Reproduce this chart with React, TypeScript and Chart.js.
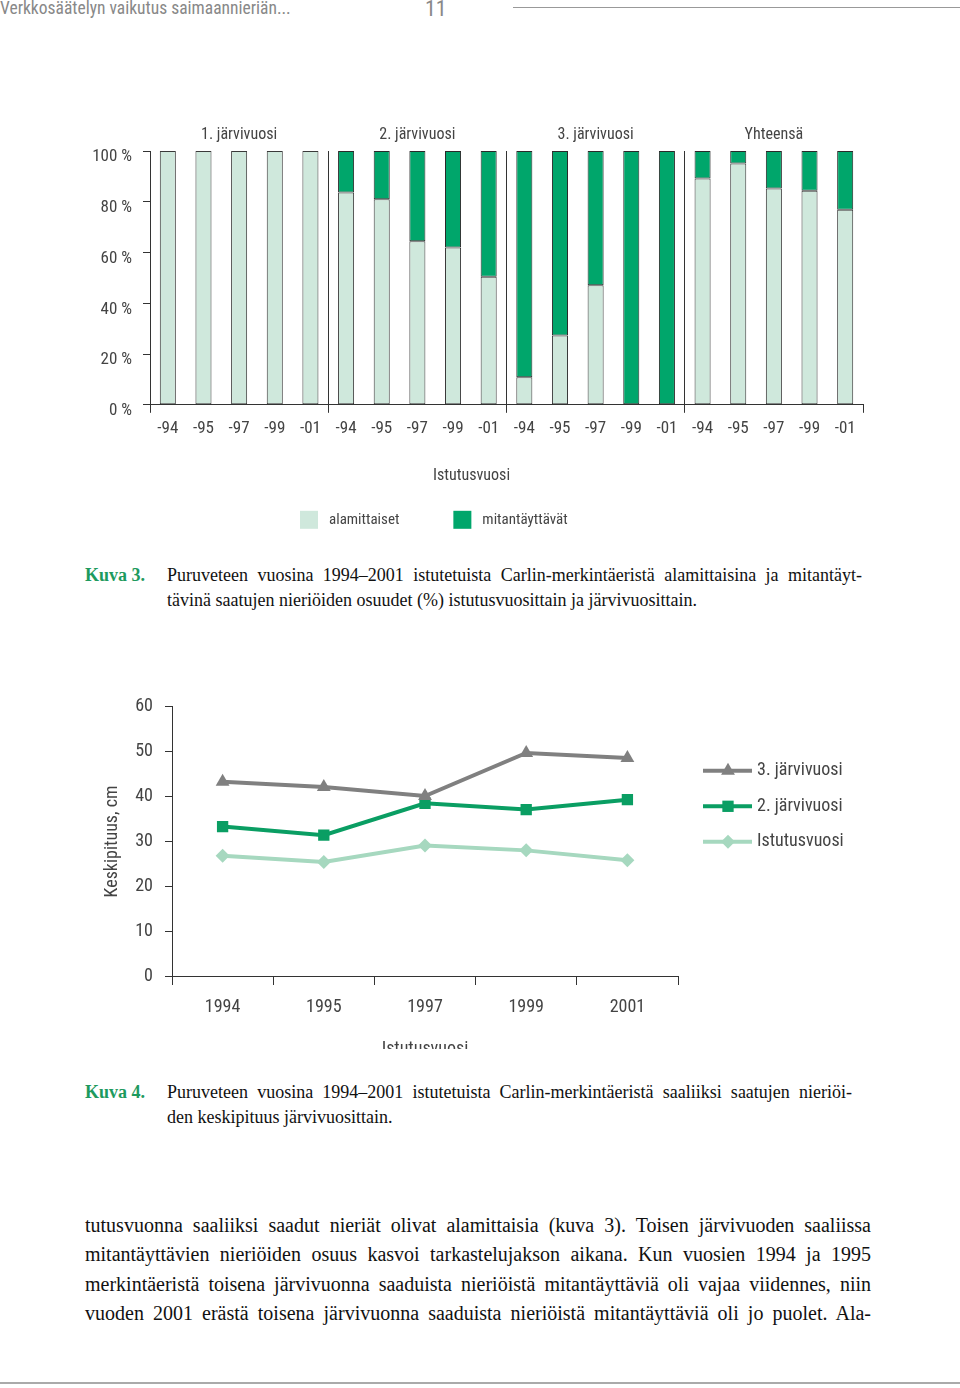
import { useEffect, useRef } from 'react';
import { Chart, registerables } from 'chart.js';

Chart.register(...registerables);

const FONT = '"Liberation Sans Narrow", "Roboto Condensed", Roboto, sans-serif';
const SERIF = '"Liberation Serif", "Times New Roman", serif';
const TEXT = '#444';
const LIGHT = '#cfe8dc';
const DARK = '#00a66b';

// Kuva 3: share of undersized / legal-size fish
const yearLabels = [
  '-94', '-95', '-97', '-99', '-01',
  '-94', '-95', '-97', '-99', '-01',
  '-94', '-95', '-97', '-99', '-01',
  '-94', '-95', '-97', '-99', '-01',
];
const groupLabels = ['1. järvivuosi', '2. järvivuosi', '3. järvivuosi', 'Yhteensä'];
const alamittaiset = [
  100, 100, 100, 100, 100,
  83.6, 81, 64.4, 62, 50.5,
  10.9, 27.3, 47.1, 0, 0,
  89.2, 95.1, 85.2, 84.3, 76.9,
];
const mitantayttavat = [
  0, 0, 0, 0, 0,
  16.4, 19, 35.6, 38, 49.5,
  89.1, 72.7, 52.9, 100, 100,
  10.8, 4.9, 14.8, 15.7, 23.1,
];

// Kuva 4: mean length by planting year
const plantingYears = ['1994', '1995', '1997', '1999', '2001'];
const lakeYear3 = [43.3, 42.1, 40.1, 49.7, 48.6];
const lakeYear2 = [33.3, 31.4, 38.5, 37.1, 39.3];
const plantingYearLen = [26.8, 25.4, 29.1, 28.0, 25.8];

const barLegend = {
  id: 'barLegend',
  afterDraw(chart: any) {
    const { ctx, chartArea } = chart;
    const y = chartArea.bottom + 115;
    let x = chartArea.left + 150;
    ctx.save();
    ctx.font = `15px ${FONT}`;
    ctx.textBaseline = 'middle';
    chart.data.datasets.forEach((ds: any) => {
      ctx.fillStyle = ds.backgroundColor;
      ctx.fillRect(x, y - 9, 18, 18);
      ctx.fillStyle = TEXT;
      ctx.fillText(ds.label, x + 29, y);
      x += 29 + ctx.measureText(ds.label).width + 54;
    });
    ctx.restore();
  },
};

function drawMarker(ctx: CanvasRenderingContext2D, style: string, x: number, y: number, r: number, color: string) {
  ctx.fillStyle = color;
  ctx.beginPath();
  if (style === 'triangle') {
    ctx.moveTo(x, y - r);
    ctx.lineTo(x + r * 0.866, y + r * 0.5);
    ctx.lineTo(x - r * 0.866, y + r * 0.5);
  } else if (style === 'rect') {
    const s = r * Math.SQRT1_2;
    ctx.rect(x - s, y - s, 2 * s, 2 * s);
  } else {
    ctx.moveTo(x, y - r);
    ctx.lineTo(x + r, y);
    ctx.lineTo(x, y + r);
    ctx.lineTo(x - r, y);
  }
  ctx.closePath();
  ctx.fill();
}

const lineLegend = {
  id: 'lineLegend',
  afterDraw(chart: any) {
    const { ctx, chartArea } = chart;
    ctx.save();
    ctx.font = `18px ${FONT}`;
    ctx.textBaseline = 'middle';
    chart.data.datasets.forEach((ds: any, i: number) => {
      const y = chartArea.top + 64 + i * 35.5;
      const x0 = chartArea.right + 25;
      ctx.strokeStyle = ds.borderColor;
      ctx.lineWidth = 4;
      ctx.beginPath();
      ctx.moveTo(x0, y);
      ctx.lineTo(x0 + 49, y);
      ctx.stroke();
      drawMarker(ctx, ds.pointStyle, x0 + 25, y, ds.pointRadius, ds.backgroundColor);
      ctx.fillStyle = TEXT;
      ctx.fillText(ds.label, x0 + 54, y);
    });
    ctx.restore();
  },
};

function ShareChart() {
  const canvasRef = useRef<HTMLCanvasElement | null>(null);

  useEffect(() => {
    if (!canvasRef.current) return;
    const groupLine = (ctx: any) => (ctx.index === 5 || ctx.index === 10 || ctx.index === 15 ? '#333' : 'transparent');
    const groupTick = (ctx: any) => (ctx.index === undefined || ctx.index % 5 === 0 ? '#333' : 'transparent');
    const chart = new Chart(canvasRef.current, {
      type: 'bar',
      data: {
        labels: yearLabels,
        datasets: [
          {
            label: 'alamittaiset',
            data: alamittaiset,
            backgroundColor: LIGHT,
            borderColor: '#3a3a3a',
            borderWidth: 1,
            borderSkipped: false,
            barPercentage: 0.45,
            categoryPercentage: 1,
          },
          {
            label: 'mitantäyttävät',
            data: mitantayttavat,
            backgroundColor: DARK,
            borderColor: '#2a2a2a',
            borderWidth: 1,
            borderSkipped: false,
            barPercentage: 0.45,
            categoryPercentage: 1,
          },
        ],
      },
      options: {
        animation: false,
        responsive: true,
        maintainAspectRatio: false,
        layout: { padding: { top: 0, right: 17, bottom: 0, left: 0 } },
        plugins: {
          legend: { display: false },
          tooltip: { enabled: false },
          title: {
            display: true,
            text: 'Istutusvuosi',
            position: 'bottom',
            color: TEXT,
            font: { family: FONT, size: 16, weight: 'normal' },
            padding: { top: 30, bottom: 54 },
          },
        },
        scales: {
          x: {
            stacked: true,
            offset: true,
            grid: { offset: true, color: groupLine, tickColor: groupTick, tickLength: 8, lineWidth: 1 },
            border: { color: '#333' },
            ticks: { color: TEXT, font: { family: FONT, size: 17 }, padding: 6, maxRotation: 0, autoSkip: false },
            afterFit: (s: any) => { s.height = 32; },
          },
          groups: {
            type: 'category',
            position: 'top',
            labels: groupLabels,
            offset: true,
            grid: { display: false, drawTicks: false },
            border: { display: false },
            ticks: { color: TEXT, font: { family: FONT, size: 16 }, padding: 6 },
            afterFit: (s: any) => { s.height = 41; },
          },
          y: {
            stacked: true,
            min: 0,
            max: 100,
            ticks: {
              stepSize: 20,
              color: TEXT,
              font: { family: FONT, size: 17 },
              padding: 11,
              labelOffset: 6,
              callback: (v: any) => `${v} %`,
            },
            grid: { drawOnChartArea: false, tickLength: 7, tickColor: '#333' },
            border: { color: '#333' },
            afterFit: (s: any) => { s.width = 70; },
          },
        },
      },
      plugins: [barLegend],
    } as any);
    return () => chart.destroy();
  }, []);

  return (
    <div style={{ position: 'absolute', left: 80, top: 110, width: 800, height: 430 }}>
      <canvas ref={canvasRef} />
    </div>
  );
}

function LengthChart() {
  const canvasRef = useRef<HTMLCanvasElement | null>(null);

  useEffect(() => {
    if (!canvasRef.current) return;
    const line = (label: string, data: number[], color: string, pointStyle: string, pointRadius: number) => ({
      label,
      data,
      borderColor: color,
      backgroundColor: color,
      borderWidth: 4,
      pointStyle,
      pointRadius,
      pointBorderWidth: 0,
      tension: 0,
    });
    const chart = new Chart(canvasRef.current, {
      type: 'line',
      data: {
        labels: plantingYears,
        datasets: [
          line('3. järvivuosi', lakeYear3, '#808080', 'triangle', 8),
          line('2. järvivuosi', lakeYear2, '#0a9e63', 'rect', 8),
          line('Istutusvuosi', plantingYearLen, '#a6d8bf', 'rectRot', 7),
        ],
      },
      options: {
        animation: false,
        responsive: true,
        maintainAspectRatio: false,
        layout: { padding: { top: 9, right: 192, bottom: 0, left: 0 } },
        plugins: {
          legend: { display: false },
          tooltip: { enabled: false },
        },
        scales: {
          x: {
            offset: true,
            grid: { offset: true, drawOnChartArea: false, tickLength: 9, color: '#333' },
            border: { color: '#333' },
            ticks: { color: TEXT, font: { family: FONT, size: 18 }, padding: 12 },
            title: {
              display: true,
              text: 'Istutusvuosi',
              color: TEXT,
              font: { family: FONT, size: 18 },
              padding: { top: 21, bottom: 10 },
            },
            afterFit: (s: any) => { s.height = 94; },
          },
          y: {
            min: 0,
            max: 60,
            ticks: { stepSize: 10, color: TEXT, font: { family: FONT, size: 18 }, padding: 12 },
            grid: { drawOnChartArea: false, tickLength: 7, color: '#333' },
            border: { color: '#333' },
            title: {
              display: true,
              text: 'Keskipituus, cm',
              color: TEXT,
              font: { family: FONT, size: 18 },
              padding: { top: 12, bottom: 0 },
            },
            afterFit: (s: any) => { s.width = 82; },
          },
        },
      },
      plugins: [lineLegend],
    } as any);
    return () => chart.destroy();
  }, []);

  return (
    <div style={{ position: 'absolute', left: 90, top: 690, width: 780, height: 359, overflow: 'hidden' }}>
      <div style={{ position: 'absolute', left: 0, top: -6, width: 780, height: 386 }}>
        <canvas ref={canvasRef} />
      </div>
    </div>
  );
}

const justified: React.CSSProperties = {
  whiteSpace: 'nowrap',
  textAlign: 'justify',
  textAlignLast: 'justify',
};

export default function App() {
  return (
    <div style={{ position: 'absolute', left: 0, top: 0, width: 960, height: 1388, background: '#fff', overflow: 'hidden' }}>
      <div style={{ position: 'absolute', left: 0, top: -2, fontFamily: FONT, fontSize: 17.5, color: '#888', lineHeight: '20px', whiteSpace: 'nowrap' }}>
        Verkkosäätelyn vaikutus saimaannieriän...
      </div>
      <div style={{ position: 'absolute', left: 425, top: -3, fontFamily: FONT, fontSize: 22, color: '#888', lineHeight: '24px' }}>
        11
      </div>
      <div style={{ position: 'absolute', left: 513, top: 7, width: 447, height: 1, background: '#999' }} />

      <ShareChart />

      <div style={{ position: 'absolute', left: 85, top: 563, fontFamily: SERIF, fontSize: 18, lineHeight: '25px', color: '#111' }}>
        <span style={{ position: 'absolute', left: 0, top: 0, fontWeight: 'bold', color: '#1d9a5e', whiteSpace: 'nowrap' }}>Kuva 3.</span>
        <div style={{ position: 'absolute', left: 82, top: 0, width: 695, ...justified }}>
          Puruveteen vuosina 1994–2001 istutetuista Carlin-merkintäeristä alamittaisina ja mitantäyt-
        </div>
        <div style={{ position: 'absolute', left: 82, top: 25, whiteSpace: 'nowrap' }}>
          tävinä saatujen nieriöiden osuudet (%) istutusvuosittain ja järvivuosittain.
        </div>
      </div>

      <LengthChart />

      <div style={{ position: 'absolute', left: 85, top: 1080, fontFamily: SERIF, fontSize: 18, lineHeight: '25px', color: '#111' }}>
        <span style={{ position: 'absolute', left: 0, top: 0, fontWeight: 'bold', color: '#1d9a5e', whiteSpace: 'nowrap' }}>Kuva 4.</span>
        <div style={{ position: 'absolute', left: 82, top: 0, width: 685, ...justified }}>
          Puruveteen vuosina 1994–2001 istutetuista Carlin-merkintäeristä saaliiksi saatujen nieriöi-
        </div>
        <div style={{ position: 'absolute', left: 82, top: 25, whiteSpace: 'nowrap' }}>
          den keskipituus järvivuosittain.
        </div>
      </div>

      <div style={{ position: 'absolute', left: 85, top: 1211, width: 786, fontFamily: SERIF, fontSize: 20, lineHeight: '29.3px', color: '#111' }}>
        <div style={justified}>tutusvuonna saaliiksi saadut nieriät olivat alamittaisia (kuva 3). Toisen järvivuoden saaliissa</div>
        <div style={justified}>mitantäyttävien nieriöiden osuus kasvoi tarkastelujakson aikana. Kun vuosien 1994 ja 1995</div>
        <div style={justified}>merkintäeristä toisena järvivuonna saaduista nieriöistä mitantäyttäviä oli vajaa viidennes, niin</div>
        <div style={justified}>vuoden 2001 erästä toisena järvivuonna saaduista nieriöistä mitantäyttäviä oli jo puolet. Ala-</div>
      </div>

      <div style={{ position: 'absolute', left: 0, top: 1382, width: 960, height: 2, background: '#aaa' }} />
    </div>
  );
}
